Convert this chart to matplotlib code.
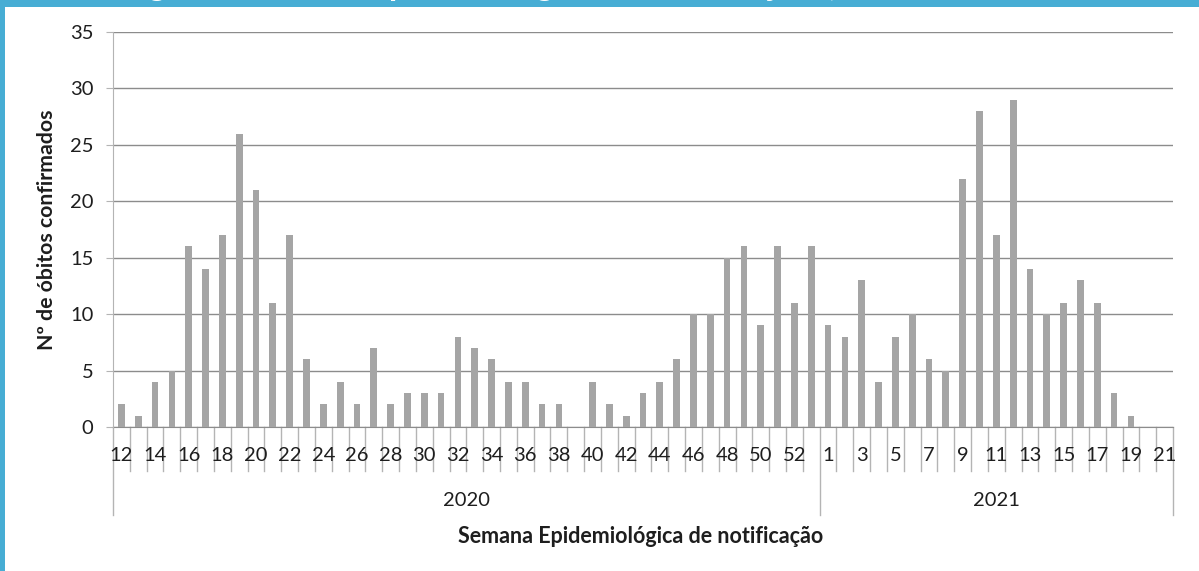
import numpy as np
import matplotlib
matplotlib.use('Agg')
import matplotlib.pyplot as plt
from matplotlib.patches import Rectangle

plt.rcParams['font.family'] = ['Lato', 'DejaVu Sans']

# Semanas epidemiológicas e óbitos confirmados
weeks_2020 = list(range(12, 54))
deaths_2020 = [2, 1, 4, 5, 16, 14, 17, 26, 21, 11, 17,
               6, 2, 4, 2, 7, 2, 3, 3, 3,
               8, 7, 6, 4, 4, 2, 2, 0,
               4, 2, 1, 3, 4, 6, 10, 10, 15, 16, 9, 16, 11, 16]
weeks_2021 = list(range(1, 22))
deaths_2021 = [9, 8, 13, 4, 8, 10, 6, 5, 22, 28, 17, 29, 14, 10, 11, 13, 11, 3, 1, 0, 0]
years = ['2020', '2021']

BAR_COLOR = '#A5A5A5'
GRID_COLOR = '#8C8C8C'
AXIS_COLOR = '#B4B4B4'
BANNER_COLOR = '#47ADD4'
TEXT_COLOR = '#1E1E1E'

weeks = weeks_2020 + weeks_2021
deaths = deaths_2020 + deaths_2021
x = np.arange(len(weeks))
n2020 = len(weeks_2020)

fig = plt.figure(figsize=(11.99, 5.71), dpi=100)
ax = fig.add_axes([113 / 1199, 1 - 427 / 571, 1060 / 1199, 395 / 571])

ax.bar(x, deaths, width=0.4, color=BAR_COLOR, zorder=3)

ax.set_xlim(-0.5, len(weeks) - 0.5)
ax.set_ylim(0, 35)
ax.set_yticks(range(0, 36, 5))
ax.yaxis.grid(True, color=GRID_COLOR, linewidth=1.0, zorder=0)
ax.tick_params(axis='y', length=5, color=AXIS_COLOR, labelsize=14.5, pad=9,
               labelcolor=TEXT_COLOR)
ax.set_xticks([])

for side in ['top', 'right']:
    ax.spines[side].set_visible(False)
ax.spines['left'].set_color(AXIS_COLOR)
ax.spines['bottom'].set_color(GRID_COLOR)
ax.spines['left'].set_zorder(4)

# Eixo de categorias em dois níveis (semana / ano)
trans = ax.get_xaxis_transform()
long_edges = [-0.5, n2020 - 0.5, len(weeks) - 0.5]
for edge in np.arange(-0.5, len(weeks), 1.0):
    y_end = -0.2228 if edge in long_edges else -0.1114
    ax.plot([edge, edge], [0, y_end], transform=trans, color=AXIS_COLOR,
            linewidth=1.0, clip_on=False)

for i in range(0, len(weeks), 2):
    ax.text(x[i], -0.0734, str(weeks[i]), transform=trans, ha='center', va='center',
            fontsize=14.5, color=TEXT_COLOR)

ax.text((n2020 - 1) / 2, -0.187, years[0], transform=trans, ha='center', va='center',
        fontsize=14.5, color=TEXT_COLOR)
ax.text(n2020 + (len(weeks_2021) - 1) / 2, -0.187, years[1], transform=trans,
        ha='center', va='center', fontsize=14.5, color=TEXT_COLOR)

ax.set_xlabel('Semana Epidemiológica de notificação', fontsize=15.5, fontweight='bold',
              color=TEXT_COLOR)
ax.xaxis.set_label_coords((641 - 113) / 1060, -0.278)
ax.xaxis.label.set_va('center')
ax.set_ylabel('Nº de óbitos confirmados', fontsize=15.3, fontweight='bold',
              color=TEXT_COLOR)
ax.yaxis.set_label_coords((47 - 113) / 1060, 0.5)
ax.yaxis.label.set_va('center')

# Faixa azul do slide (título cortado no topo)
fig.patches.append(Rectangle((0, 1 - 7 / 571), 1, 7 / 571, transform=fig.transFigure,
                             facecolor=BANNER_COLOR, edgecolor='none', zorder=5))
fig.patches.append(Rectangle((0, 0), 5 / 1199, 1, transform=fig.transFigure,
                             facecolor=BANNER_COLOR, edgecolor='none', zorder=5))
fig.text(116 / 1199, 1 + 4 / 571, 'Número de óbitos ', ha='right', va='baseline',
         fontsize=24, fontweight='bold', color='white', zorder=6)
fig.text(116 / 1199, 1 + 4 / 571, 'segundo semana epidemiológica de notificação  , 2020-2021',
         ha='left', va='baseline', fontsize=24, fontweight='bold', color='white', zorder=6)

fig.savefig('out.png', dpi=100, facecolor='white')
